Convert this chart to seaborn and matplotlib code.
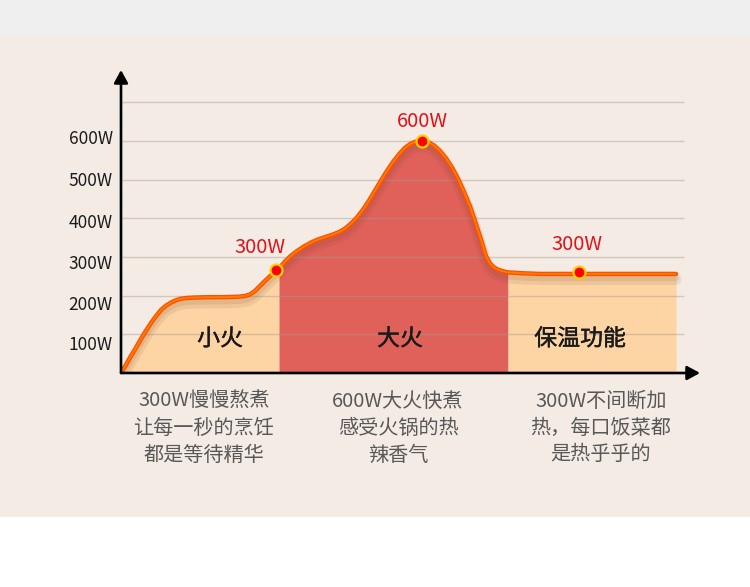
import numpy as np
import pandas as pd
import matplotlib
matplotlib.use("Agg")
import matplotlib.pyplot as plt
import matplotlib.patheffects as pe
from matplotlib.patches import Rectangle
import seaborn as sns

# ---------------- data ----------------
# time axis (arbitrary units) and power (W)
curve_t = [0, 5, 10, 15, 20, 25, 30, 35, 40, 45, 50, 55, 60, 66, 74, 89, 104, 117, 124,
           129, 134, 139, 144, 149, 155, 158, 164, 170, 176, 183, 190, 197, 204, 211,
           218, 224, 230, 236, 242, 248, 254, 260, 266, 272, 278, 284, 290, 296, 301,
           307, 313, 319, 325, 331, 337, 343, 349, 355, 360, 365, 369, 373, 377, 382,
           387, 399, 419, 458, 555]
curve_w = [0, 21, 44, 65, 88, 109, 129, 147, 163, 174, 182, 188, 192, 194, 195, 196, 196,
           197, 199, 203, 212, 225, 238, 250, 264, 270, 288, 303, 315, 327, 337, 345, 351,
           357, 364, 373, 386, 402, 422, 445, 471, 497, 522, 545, 565, 582, 593, 599, 600,
           597, 588, 574, 555, 531, 502, 468, 431, 385, 345, 302, 283, 273, 267, 263,
           260, 258, 256, 256, 256]
stage_bounds = [0, 158, 387, 555]
stage_names = ["小火", "大火", "保温功能"]
stage_label_t = [99, 279, 459]
point_t = [155, 301, 458]
point_w = [266, 600, 260]
point_text = ["300W", "600W", "300W"]
point_text_t = [139, 301, 456]
point_text_w = [323, 651, 333]
grid_w = [100, 200, 300, 400, 500, 600, 700]
ytick_pos = [78, 181, 287, 393, 501, 610]
ytick_labels = ["100W", "200W", "300W", "400W", "500W", "600W"]
desc_blocks = [
    ["300W慢慢熬煮", "让每一秒的烹饪", "都是等待精华"],
    ["600W大火快煮", "感受火锅的热", "辣香气"],
    ["300W不间断加", "热，每口饭菜都", "是热乎乎的"],
]
desc_x_px = [204, 398, 601]
desc_y_px = [401, 428, 455]

# ---------------- style ----------------
sns.set_theme(style="white")
plt.rcParams["font.family"] = ["Noto Sans CJK SC", "DejaVu Sans"]

W, H = 750, 587
fig = plt.figure(figsize=(W / 100, H / 100), dpi=100)
fig.patch.set_facecolor("white")
fig.patches.append(Rectangle((0, 1 - 35 / H), 1, 35 / H, transform=fig.transFigure,
                             facecolor="#efefef", edgecolor="none", zorder=-10))
fig.patches.append(Rectangle((0, 1 - 517 / H), 1, (517 - 35) / H, transform=fig.transFigure,
                             facecolor="#f4ece4", edgecolor="none", zorder=-10))

ax = fig.add_axes([121 / W, 1 - 373 / H, 579 / W, 303 / H])
ax.set_facecolor("none")
ax.set_xlim(0, 579)
ax.set_ylim(0, 303 / 0.387)
for s in ax.spines.values():
    s.set_visible(False)

df = pd.DataFrame({"t": curve_t, "w": curve_w})
t = np.array(curve_t)
w = np.array(curve_w)

# fills by stage
fill_colors = ["#fdd4a4", "#e0605a", "#fdd4a4"]
for i in range(3):
    m = (t >= stage_bounds[i]) & (t <= stage_bounds[i + 1])
    ax.fill_between(t[m], 0, w[m], color=fill_colors[i], linewidth=0, zorder=1)

# grid lines (drawn over the fills, semi transparent)
ax.hlines(grid_w, 0, 563, color="#a89c92", alpha=0.45, linewidth=1, zorder=2)

# curve
sns.lineplot(data=df, x="t", y="w", sort=False, estimator=None, ax=ax,
             color="#ff4e00", linewidth=3.2, zorder=4,
             path_effects=[pe.SimpleLineShadow(offset=(0, -4), shadow_color="#7a4a30", alpha=0.10, linewidth=8),
                           pe.SimpleLineShadow(offset=(0, -3), shadow_color="#7a4a30", alpha=0.12, linewidth=4.5),
                           pe.Normal()])
ax.plot(t, w, color="#ff7a00", linewidth=1.4, zorder=5, solid_capstyle="butt",
        solid_joinstyle="round")

# points
sns.scatterplot(x=point_t, y=point_w, ax=ax, s=75, color="#ff0000",
                edgecolor="#ffd000", linewidth=1.6, zorder=6)

for tx, ty, s in zip(point_text_t, point_text_w, point_text):
    ax.text(tx, ty, s, color="#e0121c", fontsize=14.5, ha="center", va="center", zorder=7)

for tx, s in zip(stage_label_t, stage_names):
    ax.text(tx, 88, s, color="#1a1a1a", fontsize=16.5,
            ha="center", va="center", zorder=7,
            path_effects=[pe.withStroke(linewidth=0.3, foreground="#1a1a1a")])

# y tick labels
ax.set_xticks([])
ax.set_yticks(ytick_pos)
ax.set_yticklabels(ytick_labels)
ax.tick_params(axis="y", length=0, pad=6, labelsize=12.5, labelcolor="#1c1c1c")
ax.set_xlabel("")
ax.set_ylabel("")

# axis arrows
arrow_kw = dict(arrowstyle="-|>,head_length=0.55,head_width=0.3", lw=1.9, color="black",
                mutation_scale=14, shrinkA=0, shrinkB=0)
ax.annotate("", xy=(0, 1), xytext=(0, 0), xycoords="axes fraction",
            arrowprops=arrow_kw, zorder=8, annotation_clip=False)
ax.annotate("", xy=(1, 0), xytext=(0, 0), xycoords="axes fraction",
            arrowprops=arrow_kw, zorder=8, annotation_clip=False)

# descriptions
for bx, lines in zip(desc_x_px, desc_blocks):
    for by, line in zip(desc_y_px, lines):
        fig.text(bx / W, 1 - by / H, line, color="#585858", fontsize=14.5,
                 fontweight="light", ha="center", va="center")

fig.savefig("out.png", dpi=100, facecolor=fig.get_facecolor())
